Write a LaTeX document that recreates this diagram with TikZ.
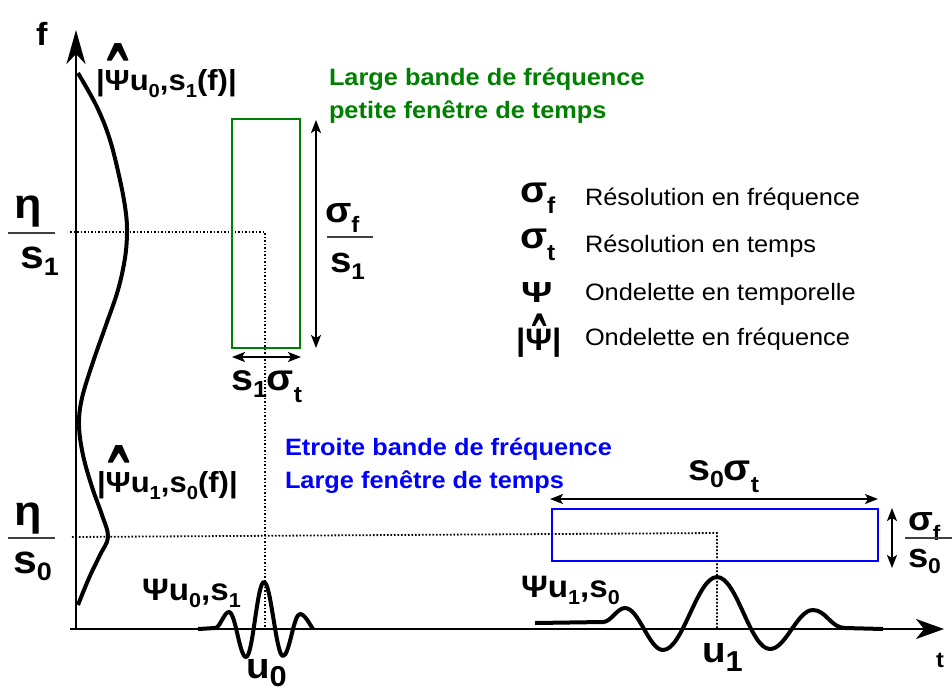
\documentclass[tikz,border=0pt]{standalone}
\usepackage{fontspec}
\setmainfont{Liberation Sans}[FakeStretch=1.07]
\usepackage{graphicx}
\usetikzlibrary{arrows.meta}
\definecolor{dgreen}{RGB}{0,128,0}
\definecolor{dblue}{RGB}{0,0,255}
\newcommand\fsz[1]{\fontsize{#1}{#1}\selectfont}
\newcommand\sbs[3]{\raisebox{#2}{\scalebox{#1}{#3}}}
% Psi with a hat: #1 raise, #2 x-scale, #3 y-scale
\newcommand\hpsi[3]{\ooalign{Ψ\cr\hidewidth\raisebox{#1}{\scalebox{#2}[#3]{ˆ}}\hidewidth\cr}}
\begin{document}
\begin{tikzpicture}[x=1pt,y=-1pt,
  lbl/.style={inner sep=0pt,outer sep=0pt,anchor=base west},
  axisline/.style={line width=2pt},
  wave/.style={line width=4pt, line join=round},
  dotline/.style={line width=1.8pt, dash pattern=on 1.6pt off 1.9pt},
  rangearrow/.style={line width=1.6pt,{Stealth[length=13pt,width=10pt,inset=3pt]}-{Stealth[length=13pt,width=10pt,inset=3pt]}},
  fracbar/.style={line width=1.5pt, black!75},
  boxline/.style={line width=2pt}]
\useasboundingbox (0,0) rectangle (952,691);
\fill[white] (0,0) rectangle (952,691);

% axes
\coordinate (origin) at (76,629);
\coordinate (fTip) at (76,30);
\coordinate (tStart) at (70,629);
\coordinate (tTip) at (944,629);
\draw[axisline,-{Stealth[length=34pt,width=19pt,inset=10pt]}] (origin) -- (fTip);
\draw[axisline,-{Stealth[length=28pt,width=20pt,inset=8pt]}] (tStart) -- (tTip);

% dotted guides
\coordinate (gA1) at (70,232);
\coordinate (gA2) at (265,232);
\coordinate (gA3) at (265,629);
\coordinate (gB1) at (72,537);
\coordinate (gB2) at (717,533);
\coordinate (gB3) at (717,629);
\draw[dotline] (gA1) -- (gA2) -- (gA3);
\draw[dotline] (gB1) -- (gB2) -- (gB3);

% spectrum
\draw[wave] plot[smooth,tension=0.6] coordinates {(78,73) (97,107) (110,140) (120,180) (125.5,210) (127,232) (125,258) (118,290) (106,325) (93,362) (82,398) (79,425) (83,455) (92,487) (102,515) (108,537) (100,555) (89,578) (78,605)};

% wavelets
\draw[wave] (198,629) -- (215,628) .. controls +(5,0) and +(-5,0) .. (229,612) .. controls +(6.5,0) and +(-6.5,0) .. (246,657) .. controls +(7,0) and +(-7,0) .. (264,582) .. controls +(7,0) and +(-7,0) .. (283,656) .. controls +(6.5,0) and +(-6.5,0) .. (300,614) .. controls +(5,0) and +(-3,-4) .. (313,629);
\draw[wave] (535,623) -- (603,622) .. controls +(8,0) and +(-8,0) .. (625,608) .. controls +(14,0) and +(-14,0) .. (663,650) .. controls +(20,0) and +(-20,0) .. (717,577) .. controls +(20,0) and +(-20,0) .. (770,649) .. controls +(16,0) and +(-16,0) .. (813,610) .. controls +(13,0) and +(-14,0) .. (845,628) -- (883,629);

% boxes
\coordinate (gbA) at (232,119);
\coordinate (gbB) at (300,348);
\coordinate (bbA) at (552,509);
\coordinate (bbB) at (878,561);
\draw[boxline,dgreen] (gbA) rectangle (gbB);
\draw[boxline,dblue] (bbA) rectangle (bbB);

% range arrows
\coordinate (raT) at (316,120); \coordinate (raB) at (316,348);
\coordinate (rbL) at (232,357); \coordinate (rbR) at (301,357);
\coordinate (rcL) at (550,499); \coordinate (rcR) at (878,499);
\coordinate (rdT) at (892,508); \coordinate (rdB) at (892,568);
\draw[rangearrow] (raT) -- (raB);
\draw[rangearrow] (rbL) -- (rbR);
\draw[rangearrow] (rcL) -- (rcR);
\draw[rangearrow] (rdT) -- (rdB);

% axis labels
\node[lbl,font=\bfseries\fsz{32}] (flab) at (36,45) {f};
\node[lbl,font=\bfseries\fsz{22}] (tlab) at (936,667) {t};

% eta fractions
\node[lbl,font=\bfseries\fsz{42}] (etaA) at (14,218) {η};
\draw[fracbar] (8,233) -- (55,233);
\node[lbl,font=\bfseries\fsz{40}] (sA) at (20,268) {s\sbs{0.63}{-0.18em}{1}};
\node[lbl,font=\bfseries\fsz{42}] (etaB) at (14,525) {η};
\draw[fracbar] (8,538) -- (55,538);
\node[lbl,font=\bfseries\fsz{40}] (sB) at (13,573) {s\sbs{0.63}{-0.18em}{0}};

% sigma fractions
\node[lbl,font=\bfseries\fsz{36}] (sfA) at (325,222) {σ\sbs{0.62}{-0.3em}{f}};
\draw[fracbar] (327,237) -- (373,237);
\node[lbl,font=\bfseries\fsz{36}] (sfB) at (330,272) {s\sbs{0.63}{-0.2em}{1}};
\node[lbl,font=\bfseries\fsz{34}] (sfC) at (908,530) {σ\sbs{0.62}{-0.3em}{f}};
\draw[fracbar] (905,538) -- (952,538);
\node[lbl,font=\bfseries\fsz{34}] (sfD) at (908,567) {s\sbs{0.63}{-0.2em}{0}};

% widths
\node[lbl,font=\bfseries\fsz{37}] (wA) at (231,390) {s\sbs{0.63}{-0.2em}{1}σ\sbs{0.62}{-0.33em}{t}};
\node[lbl,font=\bfseries\fsz{37}] (wB) at (688,480) {s\sbs{0.63}{-0.2em}{0}σ\sbs{0.62}{-0.33em}{t}};

% curve labels
\node[lbl,font=\bfseries\fsz{29}] (specA) at (96,90) {|\hpsi{-1.09em}{1.9}{3.6}u\sbs{0.65}{-0.25em}{0},s\sbs{0.65}{-0.25em}{1}(f)|};
\node[lbl,font=\bfseries\fsz{29}] (specB) at (97,492) {|\hpsi{-1.09em}{1.9}{3.6}u\sbs{0.65}{-0.25em}{1},s\sbs{0.65}{-0.25em}{0}(f)|};
\node[lbl,font=\bfseries\fsz{31}] (wavA) at (142,600) {Ψu\sbs{0.65}{-0.25em}{0},s\sbs{0.65}{-0.25em}{1}};
\node[lbl,font=\bfseries\fsz{31}] (wavB) at (521,597) {Ψu\sbs{0.65}{-0.25em}{1},s\sbs{0.65}{-0.25em}{0}};
\node[lbl,font=\bfseries\fsz{36}] (uA) at (246,678) {u\sbs{0.8}{-0.24em}{0}};
\node[lbl,font=\bfseries\fsz{36}] (uB) at (702,662) {u\sbs{0.8}{-0.26em}{1}};

% coloured captions
\node[lbl,text=dgreen,font=\bfseries\fsz{23.7}] (capG1) at (329,85) {Large bande de fréquence};
\node[lbl,text=dgreen,font=\bfseries\fsz{23.7}] (capG2) at (329,118) {petite fenêtre de temps};
\node[lbl,text=dblue,font=\bfseries\fsz{23.7}] (capB1) at (285,455) {Etroite bande de fréquence};
\node[lbl,text=dblue,font=\bfseries\fsz{23.7}] (capB2) at (285,488) {Large fenêtre de temps};

% legend
\node[lbl,font=\bfseries\fsz{37}] (symA) at (520,202) {σ\sbs{0.62}{-0.3em}{f}};
\node[lbl,font=\bfseries\fsz{37}] (symB) at (520,248) {σ\sbs{0.62}{-0.33em}{t}};
\node[lbl,font=\bfseries\fsz{29}] (symC) at (521,302) {\scalebox{1.25}[1]{Ψ}};
\node[lbl,font=\bfseries\fsz{31}] (symD) at (516,350) {|\hpsi{-0.62em}{1.2}{2.4}|};
\node[lbl,font=\fsz{23.7}] (legA) at (585,205) {Résolution en fréquence};
\node[lbl,font=\fsz{23.7}] (legB) at (585,252) {Résolution en temps};
\node[lbl,font=\fsz{23.7}] (legC) at (585,300) {Ondelette en temporelle};
\node[lbl,font=\fsz{23.7}] (legD) at (585,345) {Ondelette en fréquence};
\end{tikzpicture}
\end{document}
